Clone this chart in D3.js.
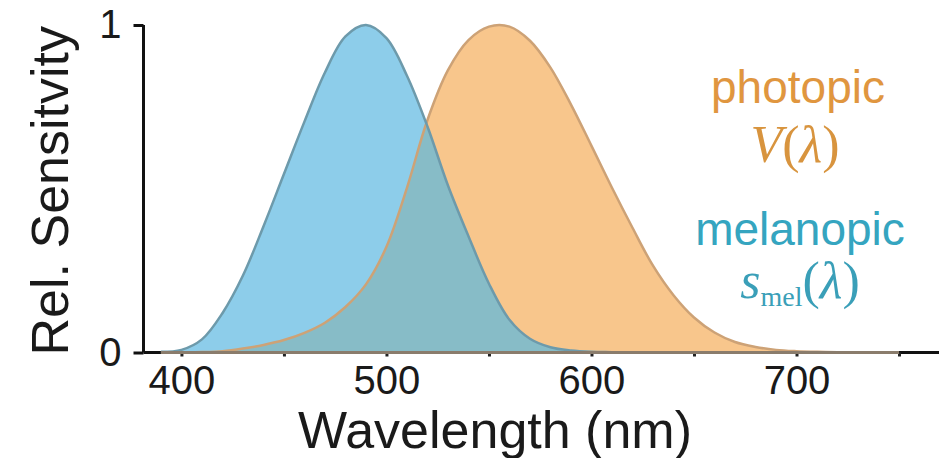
<!DOCTYPE html>
<html>
<head>
<meta charset="utf-8">
<script src="https://cdn.jsdelivr.net/npm/d3@7"></script>
<style>
  body { margin: 0; background: #fff; }
  svg { display: block; }
  .sans { font-family: "Liberation Sans", Arial, Helvetica, sans-serif; }
  .serif { font-family: "Liberation Serif", "Times New Roman", serif; }
</style>
</head>
<body>
<svg id="chart" width="949" height="458"></svg>
<script>
// wavelengths in nm, one reading every 10 nm
const wavelengths = [
  390, 400, 410, 420, 430, 440, 450, 460, 470, 480,
  490, 500, 510, 520, 530, 540, 550, 560, 570, 580,
  590, 600, 610, 620, 630, 640, 650, 660, 670, 680,
  690, 700, 710, 720, 730, 740, 750
]

// photopic V(lambda)
const photopic = [
  0.0001, 0.0004, 0.0012, 0.004, 0.012, 0.023, 0.038, 0.06, 0.091, 0.139,
  0.208, 0.323, 0.503, 0.71, 0.862, 0.954, 0.995, 0.995, 0.952, 0.87,
  0.757, 0.631, 0.503, 0.381, 0.265, 0.175, 0.107, 0.061, 0.032, 0.017,
  0.008, 0.004, 0.002, 0.001, 0.0005, 0.0002, 0.0001
]

// melanopic s_mel(lambda)
const melanopic = [
  0.002, 0.008, 0.04, 0.12, 0.235, 0.385, 0.545, 0.705, 0.855, 0.965,
  1.0, 0.96, 0.845, 0.69, 0.51, 0.355, 0.21, 0.1, 0.042, 0.016,
  0.006, 0.002, 0.001, 0, 0, 0, 0, 0, 0, 0,
  0, 0, 0, 0, 0, 0, 0
]

const xTicks = [400, 450, 500, 550, 600, 650, 700, 750]
const xTickLabels = { 400: '400', 500: '500', 600: '600', 700: '700' }
const yTicks = [0, 1]

let svg = d3.select('#chart')

let x = d3.scaleLinear().domain([381.5, 769.5]).range([143.5, 939])
let y = d3.scaleLinear().domain([0, 1]).range([352.5, 25])

// catmull-rom keeps the curves smooth and through the readings
let curve = d3.curveCatmullRom.alpha(0.5)

let area = (values) => d3.area()
  .x((d, i) => x(wavelengths[i]))
  .y0(y(0))
  .y1((d, i) => Math.min(y(0), y(values[i])))
  .curve(curve)(values)

let line = (values) => d3.line()
  .x((d, i) => x(wavelengths[i]))
  .y((d, i) => y(values[i]))
  .curve(curve)(values)

// axes first, the curves sit on top of the baseline
let xAxis = svg.append('g')
    .attr('transform', `translate(0,${y(0)})`)
    .call(d3.axisBottom(x)
      .tickValues(xTicks)
      .tickSize(4)
      .tickPadding(9)
      .tickFormat(d => xTickLabels[d] || ''))
xAxis.select('.domain')
    .attr('d', `M${x.range()[0]},0H${x.range()[1]}`)
    .attr('stroke', '#111')
    .attr('stroke-width', 3)
xAxis.selectAll('.tick line').attr('stroke', '#222').attr('stroke-width', 3)
xAxis.selectAll('.tick text')
    .attr('class', 'sans')
    .attr('font-size', 40)
    .attr('fill', '#1a1a1a')

let yAxis = svg.append('g')
    .attr('transform', `translate(${x.range()[0]},0)`)
    .call(d3.axisLeft(y)
      .tickValues(yTicks)
      .tickSize(10)
      .tickPadding(12)
      .tickFormat(d3.format('d')))
yAxis.select('.domain')
    .attr('d', `M0,${y(1)}V${y(0)}`)
    .attr('stroke', '#111')
    .attr('stroke-width', 3)
yAxis.selectAll('.tick line').attr('stroke', '#111').attr('stroke-width', 3)
yAxis.selectAll('.tick text')
    .attr('class', 'sans')
    .attr('font-size', 40)
    .attr('fill', '#1a1a1a')

// filled curves, overlap drawn through the orange clip
svg.append('clipPath').attr('id', 'photopic-clip')
  .append('path').attr('d', area(photopic))

svg.append('path').attr('d', area(photopic)).attr('fill', '#f8c68c')
svg.append('path').attr('d', area(melanopic)).attr('fill', '#8dcdea')
svg.append('path').attr('d', area(melanopic))
    .attr('fill', '#87bcc7')
    .attr('clip-path', 'url(#photopic-clip)')

svg.append('path').attr('d', line(photopic))
    .attr('fill', 'none')
    .attr('stroke', '#cda276')
    .attr('stroke-width', 2.5)
svg.append('path').attr('d', line(melanopic))
    .attr('fill', 'none')
    .attr('stroke', '#6d9aab')
    .attr('stroke-width', 2.5)

// the outlines run along the baseline too, over the black axis
svg.append('line')
    .attr('x1', x(wavelengths[0]))
    .attr('x2', x(wavelengths[wavelengths.length - 1]))
    .attr('y1', y(0))
    .attr('y2', y(0))
    .attr('stroke', '#8a7c6c')
    .attr('stroke-width', 3)

// axis labels
svg.append('text')
    .attr('class', 'sans')
    .attr('transform', `translate(68,${(y(0) + y(1)) / 2 + 2}) rotate(-90)`)
    .attr('text-anchor', 'middle')
    .attr('font-size', 52)
    .attr('fill', '#1a1a1a')
    .text('Rel. Sensitvity')

svg.append('text')
    .attr('class', 'sans')
    .attr('x', 495)
    .attr('y', 448)
    .attr('text-anchor', 'middle')
    .attr('font-size', 52)
    .attr('fill', '#1a1a1a')
    .text('Wavelength (nm)')

// legend labels
let orange = '#e0963f'
let teal = '#35a5c0'

svg.append('text')
    .attr('class', 'sans')
    .attr('x', 798).attr('y', 103)
    .attr('text-anchor', 'middle')
    .attr('font-size', 46)
    .attr('fill', orange)
    .text('photopic')

let vLabel = svg.append('text')
    .attr('class', 'serif')
    .attr('x', 795).attr('y', 162)
    .attr('text-anchor', 'middle')
    .attr('font-size', 52)
    .attr('font-style', 'italic')
    .attr('fill', '#d8943e')
vLabel.append('tspan').text('V')
vLabel.append('tspan').attr('font-style', 'normal').text('(')
vLabel.append('tspan').text('λ')
vLabel.append('tspan').attr('font-style', 'normal').text(')')

svg.append('text')
    .attr('class', 'sans')
    .attr('x', 800).attr('y', 245)
    .attr('text-anchor', 'middle')
    .attr('font-size', 46)
    .attr('fill', teal)
    .text('melanopic')

let sLabel = svg.append('text')
    .attr('class', 'serif')
    .attr('x', 800).attr('y', 298)
    .attr('text-anchor', 'middle')
    .attr('font-size', 52)
    .attr('fill', '#3a9fb8')
sLabel.append('tspan').attr('font-style', 'italic').text('s')
sLabel.append('tspan').attr('font-size', 28).attr('dy', 8).text('mel')
sLabel.append('tspan').attr('dy', -8).text('(')
sLabel.append('tspan').attr('font-style', 'italic').text('λ')
sLabel.append('tspan').text(')')
</script>
</body>
</html>
